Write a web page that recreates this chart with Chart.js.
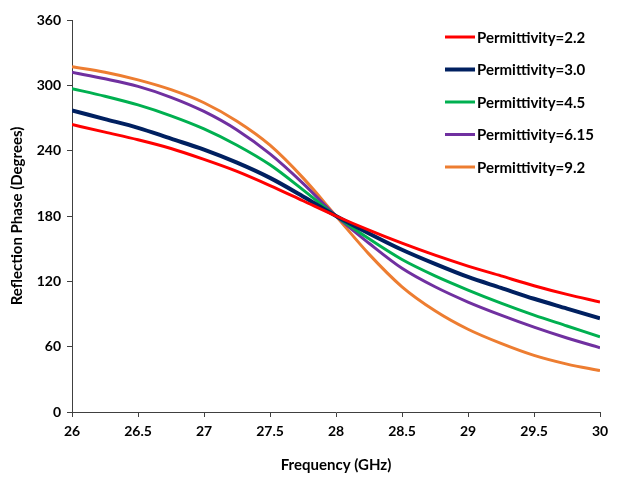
<!DOCTYPE html>
<html>
<head>
<meta charset="utf-8">
<script src="https://cdn.jsdelivr.net/npm/chart.js@4.4.0/dist/chart.umd.min.js"></script>
<style>
html,body{margin:0;padding:0;background:#fff;}
#wrap{width:618px;height:478px;position:relative;}
</style>
</head>
<body>
<div id="wrap"><canvas id="c" width="618" height="478"></canvas></div>
<script>
const freq = [26, 26.25, 26.5, 26.75, 27, 27.25, 27.5, 27.75, 28, 28.25, 28.5, 28.75, 29, 29.25, 29.5, 29.75, 30];
const perm22  = [264, 257, 250, 242, 232, 221, 208, 194, 180, 167, 155, 144, 134, 125, 116, 108, 101];
const perm30  = [277, 269, 261, 251, 241, 229, 215, 198, 180, 164, 149, 136, 124, 114, 104, 95, 86];
const perm45  = [297, 290, 282, 272, 260, 245, 227, 204, 180, 159, 140, 125, 112, 100, 89, 79, 69];
const perm615 = [312, 306, 299, 289, 276, 259, 237, 210, 180, 155, 132, 115, 101, 89, 78, 68, 59];
const perm92  = [317, 312, 305, 296, 284, 267, 245, 215, 180, 145, 115, 93, 76, 63, 52, 44, 38];
const seriesNames = ["Permittivity=2.2", "Permittivity=3.0", "Permittivity=4.5", "Permittivity=6.15", "Permittivity=9.2"];
const xTicks = [26, 26.5, 27, 27.5, 28, 28.5, 29, 29.5, 30];
const yTicks = [0, 60, 120, 180, 240, 300, 360];

const colors = ["#FF0000", "#002060", "#00B050", "#7030A0", "#ED7D31"];
const widths = [3, 4, 3, 3, 3];
const allSeries = [perm22, perm30, perm45, perm615, perm92];
const FONT = "Lato, 'Open Sans', sans-serif";

const datasets = allSeries.map((s, i) => ({
  label: seriesNames[i],
  data: freq.map((f, j) => ({x: f, y: s[j]})),
  borderColor: colors[i],
  backgroundColor: colors[i],
  borderWidth: widths[i],
  pointRadius: 0,
  cubicInterpolationMode: 'monotone',
  fill: false
}));

const legendPlugin = {
  id: 'customLegend',
  afterDraw(chart) {
    const ctx = chart.ctx;
    ctx.save();
    ctx.font = "bold 15px " + FONT;
    ctx.textBaseline = 'middle';
    ctx.textAlign = 'left';
    chart.data.datasets.forEach((ds, i) => {
      const y = 37 + i * 32.5;
      ctx.strokeStyle = ds.borderColor;
      ctx.lineWidth = ds.borderWidth;
      ctx.beginPath();
      ctx.moveTo(445, y);
      ctx.lineTo(475, y);
      ctx.stroke();
      ctx.fillStyle = '#000';
      ctx.fillText(ds.label, 477, y + 1);
    });
    ctx.restore();
  }
};

new Chart(document.getElementById('c'), {
  type: 'line',
  data: { datasets },
  plugins: [legendPlugin],
  options: {
    responsive: false,
    animation: false,
    layout: { padding: { left: 0, right: 18, top: 20, bottom: 0 } },
    plugins: { legend: { display: false }, tooltip: { enabled: false } },
    scales: {
      x: {
        type: 'linear',
        min: 26, max: 30,
        afterBuildTicks(scale) { scale.ticks = xTicks.map(v => ({value: v})); },
        afterFit(scale) { scale.height = 66; },
        ticks: {
          color: '#000',
          font: { family: FONT, size: 14, weight: 'bold' },
          padding: 6,
          maxRotation: 0,
          callback: v => String(v)
        },
        grid: { display: true, drawOnChartArea: false, drawTicks: true, tickLength: 5, color: '#404040' },
        border: { display: true, color: '#404040', width: 1 },
        title: {
          display: true, text: 'Frequency (GHz)', color: '#000',
          font: { family: FONT, size: 15, weight: 'bold' },
          padding: { top: 8, bottom: 4 }
        }
      },
      y: {
        type: 'linear',
        min: 0, max: 360,
        afterBuildTicks(scale) { scale.ticks = yTicks.map(v => ({value: v})); },
        afterFit(scale) { scale.width = 72; },
        ticks: {
          color: '#000',
          font: { family: FONT, size: 14, weight: 'bold' },
          padding: 6
        },
        grid: { display: true, drawOnChartArea: false, drawTicks: true, tickLength: 5, color: '#404040' },
        border: { display: true, color: '#404040', width: 1 },
        title: {
          display: true, text: 'Reflection Phase (Degrees)', color: '#000',
          font: { family: FONT, size: 15, weight: 'bold' },
          padding: { top: 8, bottom: 4 }
        }
      }
    }
  }
});
</script>
</body>
</html>
